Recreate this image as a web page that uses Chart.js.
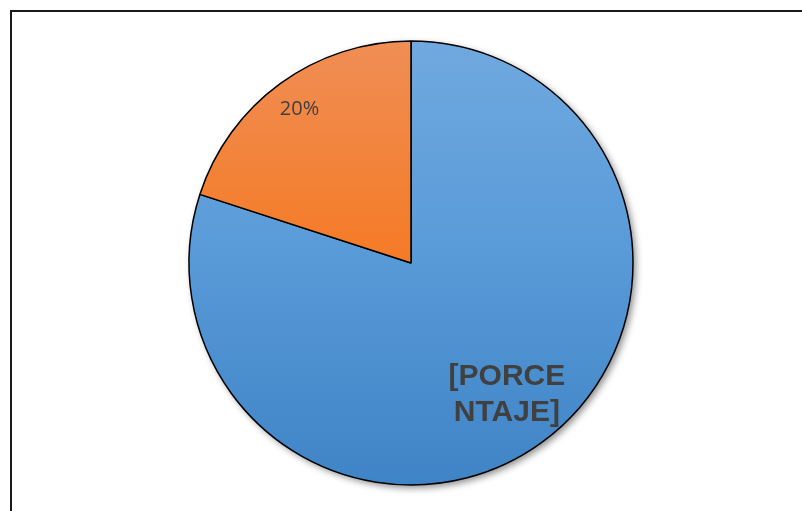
<!DOCTYPE html>
<html>
<head>
<meta charset="utf-8">
<script src="https://cdn.jsdelivr.net/npm/chart.js@4"></script>
<style>
  html, body { margin: 0; padding: 0; background: #fff; }
  #wrap { width: 802px; height: 511px; position: relative; }
</style>
</head>
<body>
<div id="wrap"><canvas id="myPieChart" width="802" height="511"></canvas></div>
<script>
const labels = ['Porcentaje', 'Otro'];
const values = [80, 20];
const dataLabels = ['[PORCE\nNTAJE]', '20%'];

// top / middle / bottom colours of each slice's gradient
const topColors = ['#70a9df', '#f08e55'];
const midColors = ['#5a9bd9', '#f47c2a'];
const bottomColors = ['#3f84c6', '#e5691a'];

function sliceGradient(context) {
    const chart = context.chart;
    const area = chart.chartArea;
    if (!area) return bottomColors[context.dataIndex];
    const g = chart.ctx.createLinearGradient(0, area.top, 0, area.bottom);
    g.addColorStop(0, topColors[context.dataIndex]);
    g.addColorStop(0.45, midColors[context.dataIndex]);
    g.addColorStop(1, bottomColors[context.dataIndex]);
    return g;
}

const framePlugin = {
    id: 'frame',
    beforeDraw(chart) {
        const ctx = chart.ctx;
        ctx.save();
        ctx.strokeStyle = '#1a1a1a';
        ctx.lineWidth = 2;
        ctx.strokeRect(11, 11, 820, 540);
        ctx.restore();
    },
    beforeDatasetsDraw(chart) {
        // soft shadow behind the pie
        const arc = chart.getDatasetMeta(0).data[0];
        if (!arc) return;
        const ctx = chart.ctx;
        ctx.save();
        ctx.shadowColor = 'rgba(0,0,0,0.45)';
        ctx.shadowBlur = 7;
        ctx.shadowOffsetX = 3;
        ctx.shadowOffsetY = 3;
        ctx.fillStyle = '#fff';
        ctx.beginPath();
        ctx.arc(arc.x, arc.y, arc.outerRadius, 0, Math.PI * 2);
        ctx.fill();
        ctx.restore();
    }
};

const labelPlugin = {
    id: 'sliceLabels',
    afterDatasetsDraw(chart) {
        const ctx = chart.ctx;
        const meta = chart.getDatasetMeta(0);
        const styles = [
            { font: 'bold 30px "Liberation Sans", Arial, sans-serif', pos: 0.735, line: 36 },
            { font: '20px "Open Sans", sans-serif', pos: 0.854, line: 24 }
        ];
        meta.data.forEach((arc, i) => {
            const mid = (arc.startAngle + arc.endAngle) / 2;
            const r = arc.outerRadius * styles[i].pos;
            const x = arc.x + Math.cos(mid) * r;
            const y = arc.y + Math.sin(mid) * r;
            const lines = dataLabels[i].split('\n');
            ctx.save();
            ctx.font = styles[i].font;
            ctx.fillStyle = '#404040';
            ctx.textAlign = 'center';
            ctx.textBaseline = 'middle';
            const h = styles[i].line;
            lines.forEach((t, k) => {
                ctx.fillText(t, x, y + (k - (lines.length - 1) / 2) * h);
            });
            ctx.restore();
        });
    }
};

const ctx = document.getElementById('myPieChart').getContext('2d');
const myChart = new Chart(ctx, {
    type: 'pie',
    data: {
        labels: labels,
        datasets: [{
            data: values,
            backgroundColor: sliceGradient,
            borderColor: '#000',
            borderWidth: 1.5
        }]
    },
    options: {
        responsive: false,
        animation: false,
        radius: 222,
        layout: { padding: { top: 41, bottom: 26, left: 189, right: 169 } },
        plugins: {
            legend: { display: false },
            tooltip: { enabled: false }
        }
    },
    plugins: [framePlugin, labelPlugin]
});
</script>
</body>
</html>
